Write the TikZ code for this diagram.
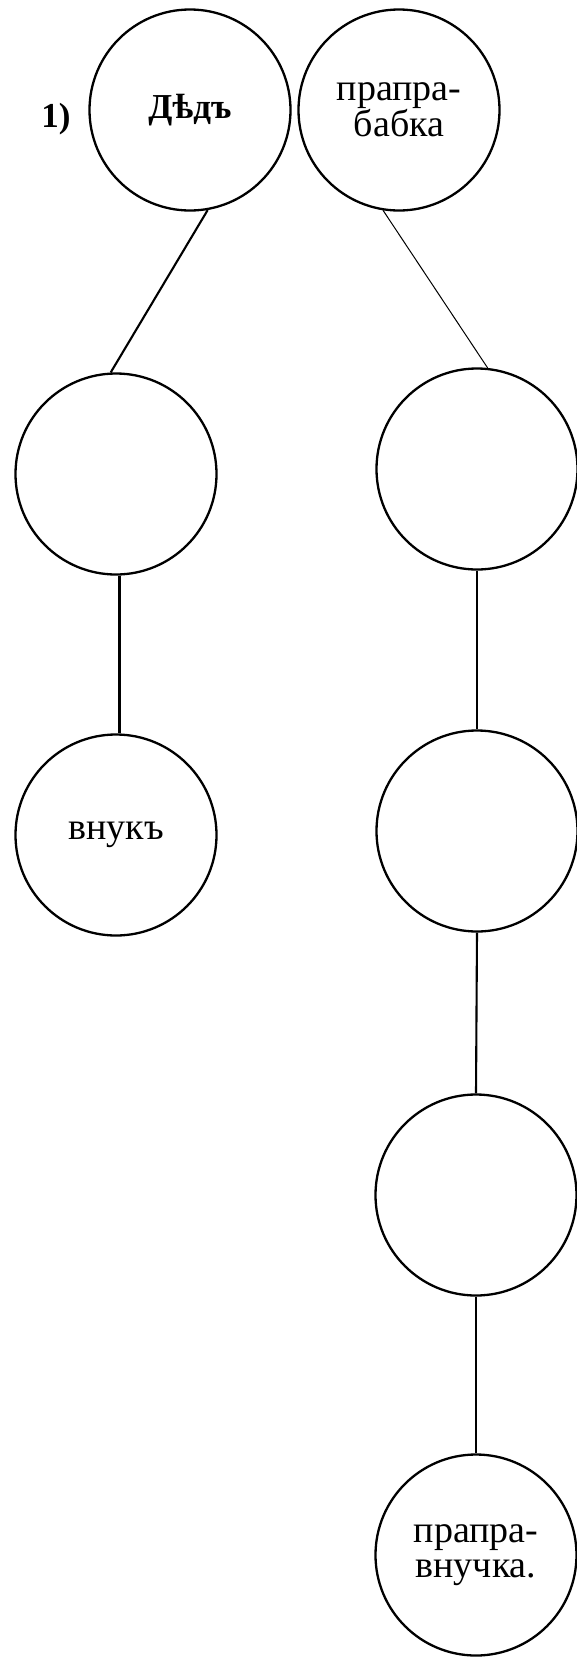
\documentclass[tikz,border=0pt]{standalone}
\usepackage{fontspec}
\setmainfont{Liberation Serif}
\begin{document}
\begin{tikzpicture}[x=1pt,y=-1pt,
  person/.style={circle,draw,line width=2.3pt,minimum size=201pt,inner sep=0pt,align=center,
                 font=\fontsize{38}{35}\selectfont},
  link/.style={line width=2.1pt},
  thinlink/.style={line width=1pt},
  numlabel/.style={font=\fontsize{35}{35}\selectfont\bfseries,inner sep=0pt}]
\useasboundingbox (0,0) rectangle (577,1657);
% top row
\node[numlabel] (num) at (56,119) {1)};
\node[person,font=\fontsize{35}{35}\selectfont\bfseries] (dd) at (190,110) {Дѣдъ};
\node[person] (pb) at (399,110) {прапра-\\бабка};
% left column
\node[person] (l2) at (116,474) {};
\node[person] (vn) at (116,835) {внукъ};
% right column
\node[person] (r2) at (477,469) {};
\node[person] (r3) at (477,831) {};
\node[person] (r4) at (476,1195) {};
\node[person] (r5) at (476,1555) {прапра-\\внучка.};
% connectors
\draw[link] (dd.-80) -- (l2.93);
\draw[thinlink] (pb.-99) -- (r2.84);
\draw[link] (l2.-88) -- (vn.88);
\draw[link] (r2.south) -- (r3.north);
\draw[link] (r3.south) -- (r4.north);
\draw[link] (r4.south) -- (r5.north);
\end{tikzpicture}
\end{document}
